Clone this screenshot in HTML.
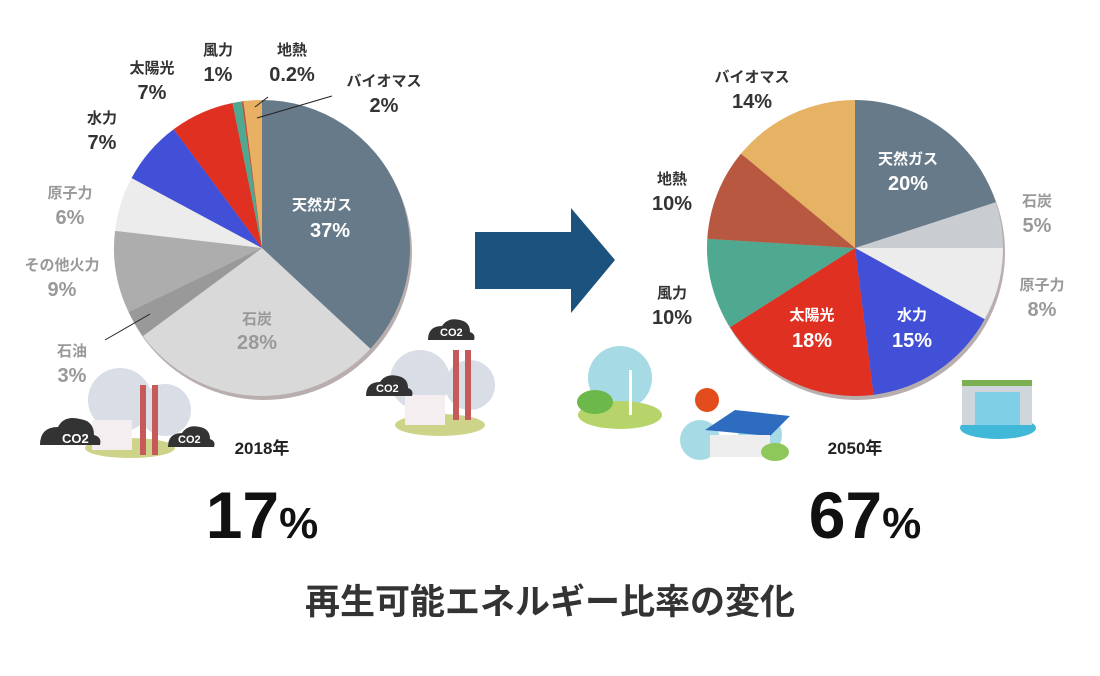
<!DOCTYPE html>
<html><head><meta charset="utf-8"><style>
body{margin:0;background:#fff;}
svg{display:block;font-family:"Liberation Sans","Noto Sans CJK JP",sans-serif;}
.lb{font-weight:bold;text-anchor:middle;}
</style></head><body>
<svg width="1100" height="676" viewBox="0 0 1100 676">
<g id="illus">
 <ellipse cx="130" cy="448" rx="45" ry="10" fill="#cdd48a"/>
 <circle cx="120" cy="400" r="32" fill="#d9dde6"/><circle cx="165" cy="410" r="26" fill="#d9dde6"/>
 <rect x="140" y="385" width="6" height="70" fill="#c65a5a"/><rect x="152" y="385" width="6" height="70" fill="#c65a5a"/>
 <rect x="92" y="420" width="40" height="30" fill="#f4eef0"/>
 <path d="M40 445 q0-18 18-18 q6-12 22-8 q14 2 14 16 q8 2 6 10z" fill="#333"/>
 <text x="62" y="443" fill="#fff" font-size="13" font-weight="bold">CO2</text>
 <path d="M168 447 q0-14 14-14 q6-9 18-6 q10 2 10 12 q6 2 4 8z" fill="#333"/>
 <text x="178" y="443" fill="#fff" font-size="11" font-weight="bold">CO2</text>
 <ellipse cx="440" cy="425" rx="45" ry="11" fill="#cdd48a"/>
 <circle cx="420" cy="380" r="30" fill="#d9dde6"/><circle cx="470" cy="385" r="25" fill="#d9dde6"/>
 <rect x="453" y="350" width="6" height="70" fill="#c65a5a"/><rect x="465" y="350" width="6" height="70" fill="#c65a5a"/>
 <rect x="405" y="395" width="40" height="30" fill="#f4eef0"/>
 <path d="M428 340 q0-14 14-14 q6-9 18-6 q10 2 10 12 q6 2 4 8z" fill="#333"/>
 <text x="440" y="336" fill="#fff" font-size="11" font-weight="bold">CO2</text>
 <path d="M366 396 q0-14 14-14 q6-9 18-6 q10 2 10 12 q6 2 4 8z" fill="#333"/>
 <text x="376" y="392" fill="#fff" font-size="11" font-weight="bold">CO2</text>
 <circle cx="620" cy="378" r="32" fill="#a6dbe6"/>
 <ellipse cx="620" cy="415" rx="42" ry="14" fill="#b6d46a"/>
 <ellipse cx="595" cy="402" rx="18" ry="12" fill="#6db84a"/>
 <rect x="629" y="370" width="3" height="45" fill="#fff"/>
 <circle cx="707" cy="400" r="12" fill="#e34c1c"/>
 <circle cx="700" cy="440" r="20" fill="#a6dbe6"/><circle cx="760" cy="435" r="22" fill="#a6dbe6"/>
 <polygon points="705,430 735,410 790,416 770,436" fill="#2e6cc0"/>
 <rect x="710" y="435" width="60" height="22" fill="#eee"/>
 <ellipse cx="775" cy="452" rx="14" ry="9" fill="#8fc85a"/>
 <ellipse cx="998" cy="428" rx="38" ry="11" fill="#40b8d8"/>
 <rect x="962" y="385" width="70" height="40" fill="#cfd6dc"/>
 <rect x="975" y="392" width="45" height="33" fill="#7fd0e6"/>
 <rect x="962" y="380" width="70" height="6" fill="#7bb052"/>
</g>
<g id="pie1"></g>
<g id="pie2"></g>
<polygon points="475,232 571,232 571,208 615,260 571,313 571,289 475,289" fill="#1c527e"/>
<line x1="105" y1="340" x2="150" y2="314" stroke="#222" stroke-width="1"/>
<line x1="255" y1="107" x2="268" y2="97" stroke="#222" stroke-width="1"/>
<line x1="257" y1="118" x2="332" y2="96" stroke="#222" stroke-width="1"/>
<g class="lb">
 <text x="322" y="210" fill="#fff" font-size="15">天然ガス</text><text x="330" y="237" fill="#fff" font-size="20">37%</text>
 <text x="257" y="324" fill="#999" font-size="15">石炭</text><text x="257" y="349" fill="#999" font-size="20">28%</text>
 <text x="72" y="356" fill="#999" font-size="15">石油</text><text x="72" y="382" fill="#999" font-size="20">3%</text>
 <text x="62" y="270" fill="#999" font-size="15">その他火力</text><text x="62" y="296" fill="#999" font-size="20">9%</text>
 <text x="70" y="198" fill="#999" font-size="15">原子力</text><text x="70" y="224" fill="#999" font-size="20">6%</text>
 <text x="102" y="123" fill="#333" font-size="15">水力</text><text x="102" y="149" fill="#333" font-size="20">7%</text>
 <text x="152" y="73" fill="#333" font-size="15">太陽光</text><text x="152" y="99" fill="#333" font-size="20">7%</text>
 <text x="218" y="55" fill="#333" font-size="15">風力</text><text x="218" y="81" fill="#333" font-size="20">1%</text>
 <text x="292" y="55" fill="#333" font-size="15">地熱</text><text x="292" y="81" fill="#333" font-size="20">0.2%</text>
 <text x="384" y="86" fill="#333" font-size="15">バイオマス</text><text x="384" y="112" fill="#333" font-size="20">2%</text>
 <text x="262" y="454" fill="#222" font-size="17">2018年</text>
 <text x="262" y="538" fill="#111" font-size="66">17<tspan font-size="44">%</tspan></text>
</g>
<g class="lb">
 <text x="908" y="164" fill="#fff" font-size="15">天然ガス</text><text x="908" y="190" fill="#fff" font-size="20">20%</text>
 <text x="1037" y="206" fill="#999" font-size="15">石炭</text><text x="1037" y="232" fill="#999" font-size="20">5%</text>
 <text x="1042" y="290" fill="#999" font-size="15">原子力</text><text x="1042" y="316" fill="#999" font-size="20">8%</text>
 <text x="912" y="320" fill="#fff" font-size="15">水力</text><text x="912" y="347" fill="#fff" font-size="20">15%</text>
 <text x="812" y="320" fill="#fff" font-size="15">太陽光</text><text x="812" y="347" fill="#fff" font-size="20">18%</text>
 <text x="672" y="298" fill="#333" font-size="15">風力</text><text x="672" y="324" fill="#333" font-size="20">10%</text>
 <text x="672" y="184" fill="#333" font-size="15">地熱</text><text x="672" y="210" fill="#333" font-size="20">10%</text>
 <text x="752" y="82" fill="#333" font-size="15">バイオマス</text><text x="752" y="108" fill="#333" font-size="20">14%</text>
 <text x="855" y="454" fill="#222" font-size="17">2050年</text>
 <text x="865" y="538" fill="#111" font-size="66">67<tspan font-size="44">%</tspan></text>
</g>
<text x="550" y="614" text-anchor="middle" font-size="35" font-weight="bold" fill="#333">再生可能エネルギー比率の変化</text>
</svg>
<script>
const cats2018 = ["天然ガス","石炭","石油","その他火力","原子力","水力","太陽光","風力","地熱","バイオマス"];
const vals2018 = [37,28,3,9,6,7,7,1,0.2,2];
const cols2018 = ["#677a8a","#d9d9d9","#999999","#adadad","#ececec","#4150d6","#e03022","#4fa990","#c0543c","#e8b062"];
const cats2050 = ["天然ガス","石炭","原子力","水力","太陽光","風力","地熱","バイオマス"];
const vals2050 = [20,5,8,15,18,10,10,14];
const cols2050 = ["#677a8a","#c9cdd1","#ececec","#4150d6","#e03022","#4fa990","#b85840","#e6b264"];
const NS="http://www.w3.org/2000/svg";
function drawPie(gid,cx,cy,r,vals,cols,cats){
  const g=document.getElementById(gid);
  const sh=document.createElementNS(NS,"circle");
  sh.setAttribute("cx",cx+2);sh.setAttribute("cy",cy+4);sh.setAttribute("r",r);sh.setAttribute("fill","#b9aeae");
  
  
  g.appendChild(sh);
  const tot=vals.reduce((a,b)=>a+b,0);let a0=-Math.PI/2;
  vals.forEach((v,i)=>{
    const a1=a0+v/tot*2*Math.PI;
    const x0=cx+r*Math.cos(a0),y0=cy+r*Math.sin(a0),x1=cx+r*Math.cos(a1),y1=cy+r*Math.sin(a1);
    const p=document.createElementNS(NS,"path");
    p.setAttribute("d",`M${cx},${cy}L${x0},${y0}A${r},${r} 0 ${a1-a0>Math.PI?1:0} 1 ${x1},${y1}Z`);
    p.setAttribute("fill",cols[i]);
    
    
    g.appendChild(p);a0=a1;
  });
}
drawPie("pie1",262,248,148,vals2018,cols2018,cats2018);
drawPie("pie2",855,248,148,vals2050,cols2050,cats2050);
</script>
</body></html>
